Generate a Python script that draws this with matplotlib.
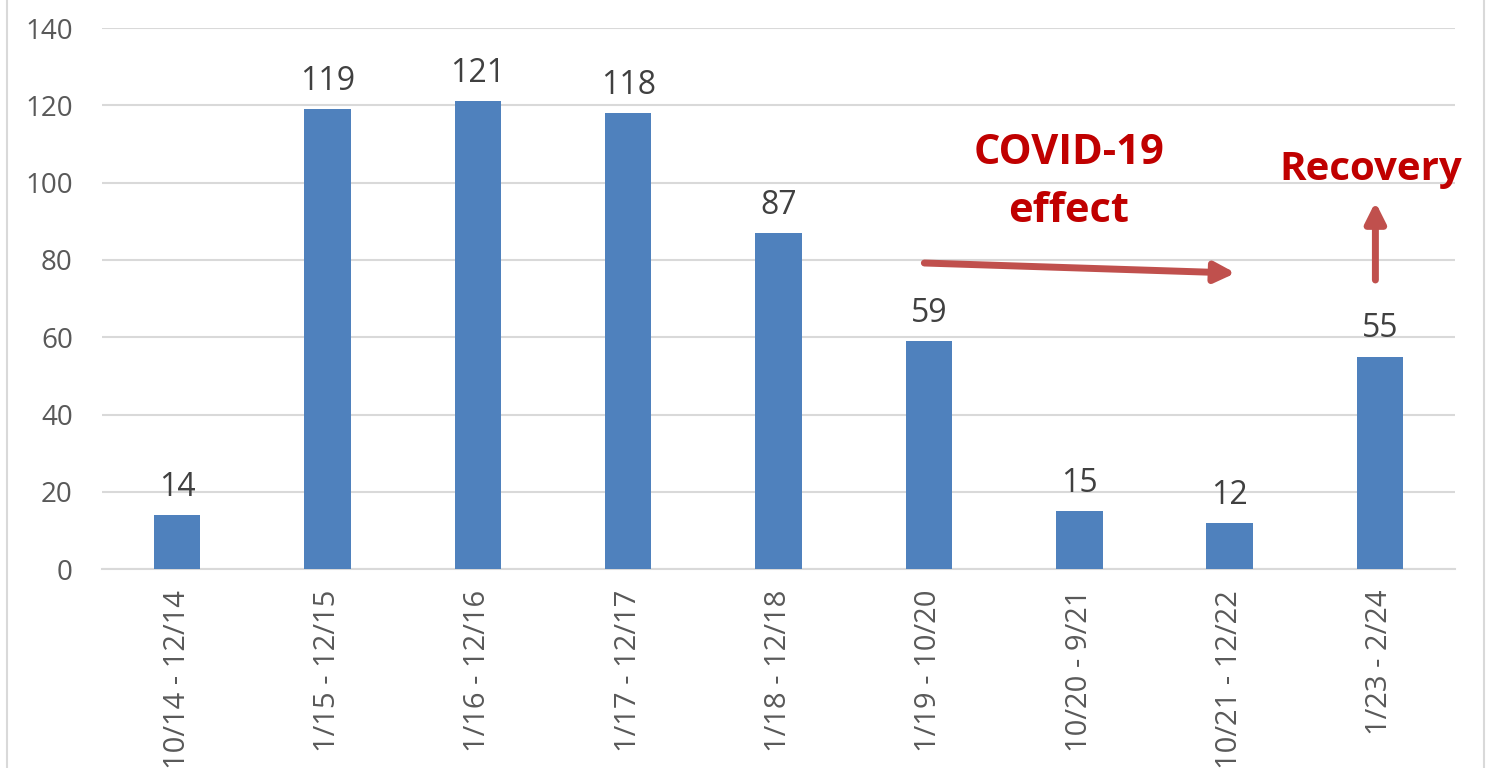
import matplotlib.pyplot as plt
from matplotlib.patches import Rectangle

periods = ["10/14 - 12/14", "1/15 - 12/15", "1/16 - 12/16", "1/17 - 12/17",
           "1/18 - 12/18", "1/19 - 10/20", "10/20 - 9/21", "10/21 - 12/22",
           "1/23 - 2/24"]
counts = [14, 119, 121, 118, 87, 59, 15, 12, 55]
y_ticks = [0, 20, 40, 60, 80, 100, 120, 140]

bar_color = "#4F81BD"
note_color = "#C00000"
arrow_color = "#C0504D"
text_gray = "#595959"

plt.rcParams['font.family'] = ['Open Sans', 'DejaVu Sans']

fig = plt.figure(figsize=(14.97, 7.68), dpi=100)
ax = fig.add_axes([0.0681, 0.259, 0.9039, 0.7045])

x = list(range(len(periods)))
bars = ax.bar(x, counts, width=0.31, color=bar_color, zorder=3)
for xi, v in zip(x, counts):
    ax.annotate(str(v), (xi, v), xytext=(0, 8), textcoords="offset points",
                ha="center", va="bottom", fontsize=23, color="#404040")

ax.set_xlim(-0.5, len(periods) - 0.5)
ax.set_ylim(0, 140)
ax.set_yticks(y_ticks)
ax.set_xticks(x)
ax.set_xticklabels(periods, rotation=90, va="top")
ax.tick_params(axis="y", length=0, pad=21, labelsize=20, labelcolor=text_gray)
ax.tick_params(axis="x", length=0, pad=15, labelsize=21, labelcolor=text_gray)
ax.yaxis.grid(True, color="#D9D9D9", linewidth=1.5, zorder=0)
for s in ["top", "right", "left"]:
    ax.spines[s].set_visible(False)
ax.spines["bottom"].set_color("#D9D9D9")
ax.spines["bottom"].set_linewidth(1.5)

# annotations
ax.text(5.93, 107.6, "COVID-19", ha="center", va="center", fontsize=30,
        fontweight="bold", color=note_color)
ax.text(5.93, 92.6, "effect", ha="center", va="center", fontsize=30,
        fontweight="bold", color=note_color)
ax.text(7.94, 103.5, "Recovery", ha="center", va="center", fontsize=29,
        fontweight="bold", color=note_color)
ax.annotate("", xy=(7.04, 76.6), xytext=(4.97, 79.2),
            arrowprops=dict(arrowstyle="-|>,head_length=1.2,head_width=0.6",
                            color=arrow_color, lw=5, shrinkA=0, shrinkB=0))
ax.annotate("", xy=(7.97, 95), xytext=(7.97, 74.8),
            arrowprops=dict(arrowstyle="-|>,head_length=1.2,head_width=0.6",
                            color=arrow_color, lw=5, shrinkA=0, shrinkB=0))

fig.patches.append(Rectangle((7 / 1497, -0.01), 1477 / 1497, 1.02,
                             transform=fig.transFigure, fill=False,
                             edgecolor="#D9D9D9", linewidth=1.5))

fig.savefig("out.png", dpi=100)
